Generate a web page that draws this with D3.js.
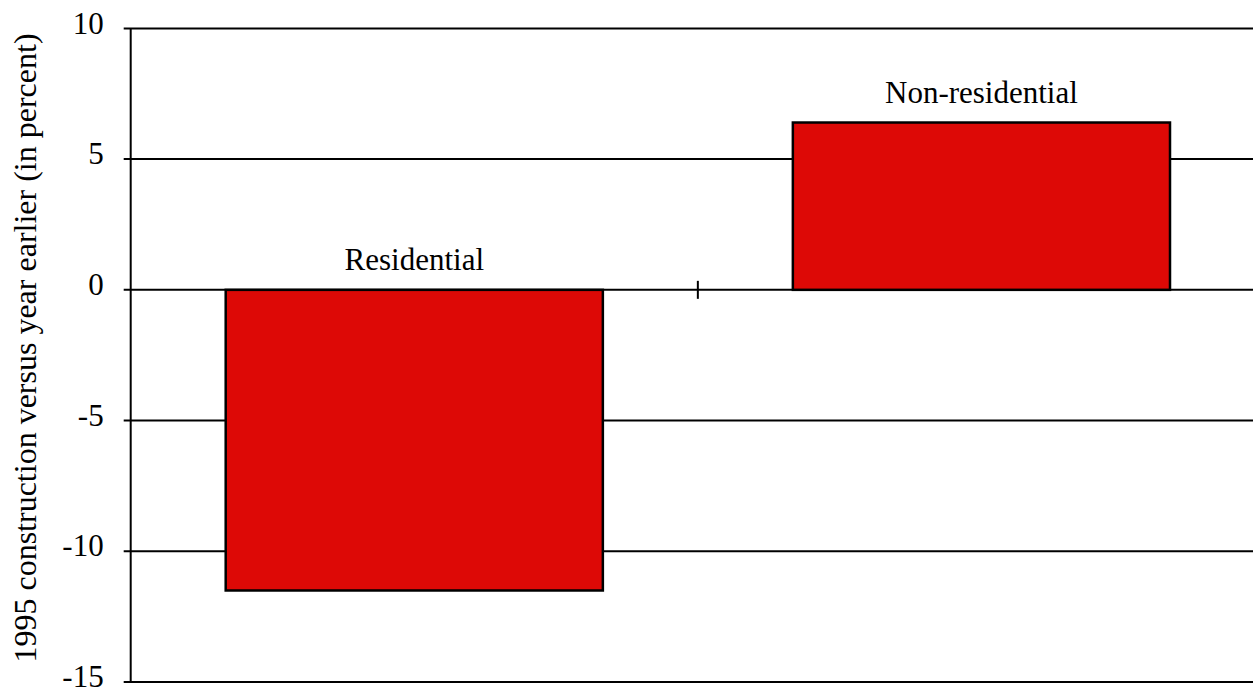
<!DOCTYPE html>
<html>
<head>
<meta charset="utf-8">
<script src="https://cdn.jsdelivr.net/npm/d3@7"></script>
<style>
  body { margin: 0; background: #fff; }
  svg { display: block; }
</style>
</head>
<body>
<svg width="1253" height="691"></svg>
<script>
var categories = ["Residential", "Non-residential"];
var values = [-11.5, 6.4];
var yTicks = [-15, -10, -5, 0, 5, 10];
var yTitle = "1995 construction versus year earlier (in percent)";

var serif = "'Liberation Serif', 'Times New Roman', Times, 'DejaVu Serif', serif";

var svg = d3.select("svg"),
    plotLeft = 130.7, plotRight = 1265, plotTop = 28.4, plotBottom = 682;

var x = d3.scaleBand()
    .domain(categories)
    .range([plotLeft, plotRight])
    .paddingInner(0.335)
    .paddingOuter(0.1675);

var y = d3.scaleLinear()
    .domain([-15, 10])
    .range([plotBottom, plotTop]);

// gridlines, drawn across the whole plot
svg.append("g")
  .selectAll("line")
  .data(yTicks)
  .enter().append("line")
    .attr("x1", plotLeft - 7)
    .attr("x2", plotRight)
    .attr("y1", function(d) { return y(d); })
    .attr("y2", function(d) { return y(d); })
    .attr("stroke", "#000")
    .attr("stroke-width", 2);

// tick labels (plain hyphen for negatives, like the original)
var yAxis = svg.append("g")
    .attr("transform", "translate(" + plotLeft + ",0)")
    .call(d3.axisLeft(y)
      .tickValues(yTicks)
      .tickSize(0)
      .tickPadding(27)
      .tickFormat(function(d) { return String(d); }));
yAxis.select(".domain").remove();
yAxis.attr("font-family", serif).attr("font-size", 31);
yAxis.selectAll("text")
    .attr("dy", "0.15em")
    .attr("fill", "#000");

// bars
svg.append("g")
  .selectAll("rect")
  .data(values)
  .enter().append("rect")
    .attr("x", function(d, i) { return x(categories[i]); })
    .attr("width", x.bandwidth())
    .attr("y", function(d) { return y(Math.max(0, d)); })
    .attr("height", function(d) { return Math.abs(y(d) - y(0)); })
    .attr("fill", "#dd0906")
    .attr("stroke", "#000")
    .attr("stroke-width", 2.5);

// bar labels
svg.append("g")
    .attr("font-family", serif)
    .attr("font-size", 31)
  .selectAll("text")
  .data(values)
  .enter().append("text")
    .attr("x", function(d, i) { return x(categories[i]) + x.bandwidth() / 2; })
    .attr("y", function(d) { return y(Math.max(0, d)) - 20; })
    .attr("text-anchor", "middle")
    .text(function(d, i) { return categories[i]; });

// category separator tick on the zero line
svg.append("line")
    .attr("x1", plotLeft + x.step())
    .attr("x2", plotLeft + x.step())
    .attr("y1", y(0) - 9)
    .attr("y2", y(0) + 9)
    .attr("stroke", "#000")
    .attr("stroke-width", 2);

// vertical axis line
svg.append("line")
    .attr("x1", plotLeft)
    .attr("x2", plotLeft)
    .attr("y1", plotTop)
    .attr("y2", plotBottom)
    .attr("stroke", "#000")
    .attr("stroke-width", 2);

// axis title
svg.append("text")
    .attr("transform", "translate(36,348) rotate(-90)")
    .attr("text-anchor", "middle")
    .attr("font-family", serif)
    .attr("font-size", 32)
    .text(yTitle);
</script>
</body>
</html>
